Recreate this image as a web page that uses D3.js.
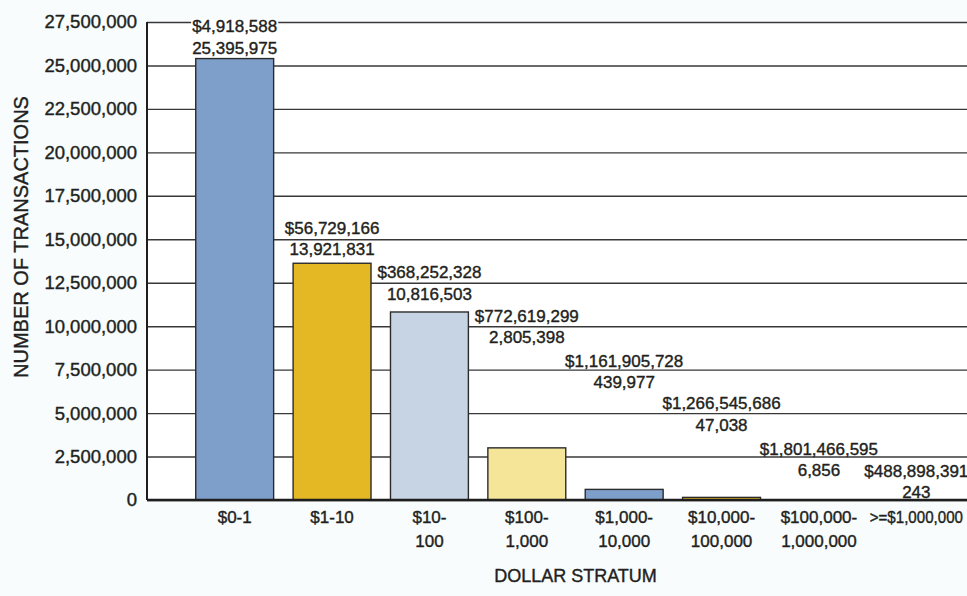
<!DOCTYPE html>
<html>
<head>
<meta charset="utf-8">
<script src="https://cdn.jsdelivr.net/npm/d3@7"></script>
<style>
  body { margin: 0; background: #f8fcfd; }
  svg text {
    font-family: "Liberation Sans", Arial, Helvetica, sans-serif;
    fill: #231f20;
    stroke: #231f20;
    stroke-width: 0.4px;
  }
</style>
</head>
<body>
<svg id="chart" width="967" height="596"></svg>
<script>
// Dollar strata on the x axis, with the line breaks used in the printed labels
const strata = ["$0-1", "$1-10", "$10-100", "$100-1,000", "$1,000-10,000", "$10,000-100,000", "$100,000-1,000,000", ">=$1,000,000"];
const strataLines = [["$0-1"], ["$1-10"], ["$10-", "100"], ["$100-", "1,000"], ["$1,000-", "10,000"], ["$10,000-", "100,000"], ["$100,000-", "1,000,000"], [">=$1,000,000"]];

// Printed labels: number of transactions and total dollars per stratum
const transactions = [25395975, 13921831, 10816503, 2805398, 439977, 47038, 6856, 243];
const dollars = [4918588, 56729166, 368252328, 772619299, 1161905728, 1266545686, 1801466595, 488898391];

// Bar heights as they are drawn (a few bars do not match their printed count)
const barHeights = [25395975, 13620000, 10816503, 3000000, 610000, 150000, 6856, 243];

// Y axis ticks
const yTicks = d3.range(0, 27500001, 2500000);

const svg = d3.select("#chart");
const width = +svg.attr("width");
const height = +svg.attr("height");
const margin = { top: 22, right: 0, bottom: 96, left: 147 };

// label pairs are staggered by hand in the original, level given in transactions
const labelLevels = [25660000, 14070000, 11510000, 9015000, 6430000, 3970000, 1380000, 115000];
const barColors = ["#7f9fcb", "#e4b824", "#c6d4e4", "#f4e598"];

const x = d3.scaleBand()
    .domain(strata)
    .range([186, 965])
    .paddingInner(0.2)
    .paddingOuter(0.1);

const y = d3.scaleLinear()
    .domain([0, 27500000])
    .range([height - margin.bottom, margin.top]);

// plot background
svg.append("rect")
    .attr("x", margin.left)
    .attr("y", margin.top)
    .attr("width", width - margin.left)
    .attr("height", y(0) - margin.top)
    .attr("fill", "#ffffff");

// gridlines
svg.append("g")
    .attr("transform", `translate(${margin.left},0)`)
    .call(d3.axisLeft(y).tickValues(yTicks).tickSize(-(width - margin.left)).tickFormat(""))
    .call(g => g.select(".domain").remove())
    .selectAll("line")
    .attr("stroke", "#383838")
    .attr("stroke-width", 1.4);

// y tick labels
svg.append("g")
    .attr("transform", `translate(${margin.left},0)`)
    .call(d3.axisLeft(y).tickValues(yTicks).tickSize(0).tickPadding(10).tickFormat(d3.format(",")))
    .call(g => g.select(".domain").remove())
    .selectAll("text")
    .attr("font-size", 18.5);

// bars
svg.selectAll(".bar")
    .data(strata)
    .enter().append("rect")
    .attr("class", "bar")
    .attr("x", d => x(d))
    .attr("y", (d, i) => y(barHeights[i]))
    .attr("width", x.bandwidth())
    .attr("height", (d, i) => y(0) - y(barHeights[i]))
    .attr("fill", (d, i) => barColors[i % barColors.length])
    .attr("stroke", "#2b2b2b")
    .attr("stroke-width", 1.4);

// axis lines
svg.append("line")
    .attr("x1", margin.left).attr("x2", margin.left)
    .attr("y1", margin.top).attr("y2", y(0))
    .attr("stroke", "#1e1e1e")
    .attr("stroke-width", 2);

svg.append("line")
    .attr("x1", margin.left).attr("x2", width)
    .attr("y1", y(0)).attr("y2", y(0))
    .attr("stroke", "#1e1e1e")
    .attr("stroke-width", 2.6);

// x tick labels
const xAxis = svg.append("g")
    .attr("transform", `translate(0,${y(0)})`)
    .call(d3.axisBottom(x).tickSize(0).tickPadding(11))
    .call(g => g.select(".domain").remove());

xAxis.selectAll("text")
    .attr("font-size", 17)
    .each(function (d, i) {
        const t = d3.select(this).text(null);
        strataLines[i].forEach((line, j) => {
            t.append("tspan")
                .attr("x", 0)
                .attr("dy", j === 0 ? "0.71em" : "1.38em")
                .text(line);
        });
        // squeeze labels that are wider than their band, as the original does
        const maxWidth = x.step() - 4;
        const w = this.getComputedTextLength();
        if (strataLines[i].length === 1 && w > maxWidth) {
            t.attr("transform", `scale(${maxWidth / w},1)`);
        }
    });

// value labels: dollars on top, count below
const labels = svg.selectAll(".value-label")
    .data(strata)
    .enter().append("g")
    .attr("class", "value-label")
    .attr("transform", (d, i) => `translate(${x(d) + x.bandwidth() / 2},${y(labelLevels[i])})`);

labels.append("text")
    .attr("text-anchor", "middle")
    .attr("font-size", 17)
    .attr("y", 0)
    .text((d, i) => d3.format(",")(transactions[i]));

// dollar label gets a white box behind it so gridlines do not run through the glyphs
labels.each(function (d, i) {
    const g = d3.select(this);
    const box = g.append("rect").attr("fill", "#ffffff");
    const t = g.append("text")
        .attr("text-anchor", "middle")
        .attr("font-size", 17)
        .attr("y", -21.5)
        .text(d3.format("$,")(dollars[i]));
    const w = t.node().getComputedTextLength();
    box.attr("x", -w / 2 - 1)
        .attr("y", -21.5 - 13)
        .attr("width", w + 2)
        .attr("height", 13);
});

// axis titles
svg.append("text")
    .attr("transform", `translate(28,237) rotate(-90)`)
    .attr("text-anchor", "middle")
    .attr("font-size", 20)
    .text("NUMBER OF TRANSACTIONS");

svg.append("text")
    .attr("x", (x.range()[0] + x.range()[1]) / 2)
    .attr("y", 582)
    .attr("text-anchor", "middle")
    .attr("font-size", 18)
    .text("DOLLAR STRATUM");
</script>
</body>
</html>
